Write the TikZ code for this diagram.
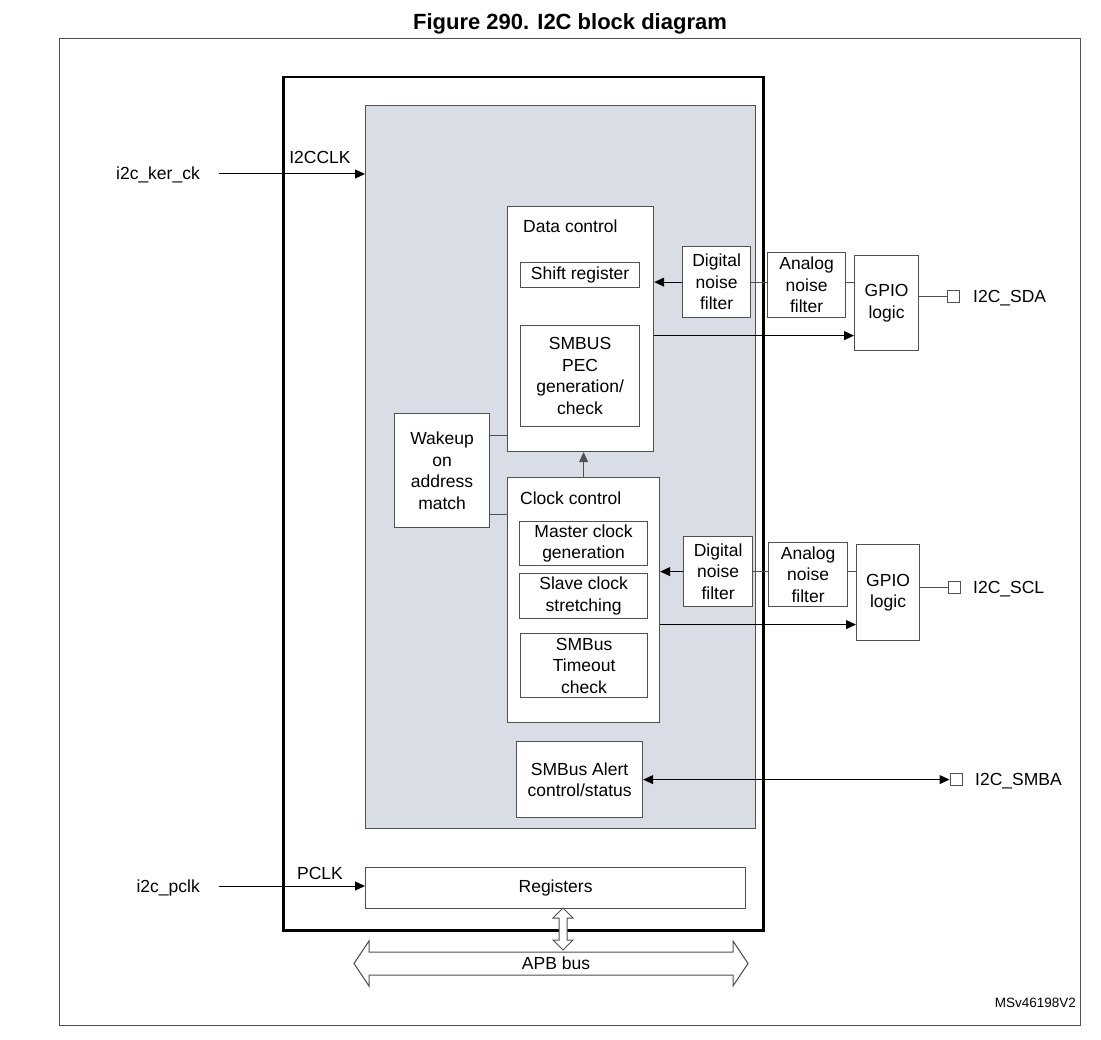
\documentclass[tikz,border=0pt]{standalone}
\usepackage{fontspec}
\setmainfont{Liberation Sans}
\usetikzlibrary{arrows.meta}
\definecolor{coregrey}{RGB}{217,221,229}
\definecolor{edgegrey}{RGB}{80,80,80}
\begin{document}
\begin{tikzpicture}[x=1pt,y=-1pt,
  every node/.style={font=\fontsize{17.5}{21.5}\selectfont},
  blk/.style={draw=edgegrey, line width=1.2pt, fill=white, inner sep=0pt, align=center, anchor=north west},
  lbl/.style={inner sep=0pt},
  arr/.style={-{Triangle[length=10pt,width=9pt]}, line width=1pt, black},
  darr/.style={{Triangle[length=10pt,width=9pt]}-{Triangle[length=10pt,width=9pt]}, line width=1pt, black},
  conn/.style={line width=1pt, edgegrey},
  padbox/.style={draw=edgegrey, line width=1pt, fill=white, minimum size=12pt, inner sep=0pt},
  hollow/.style={draw=edgegrey, line width=1pt, fill=white, line join=miter}]
\useasboundingbox (0,0) rectangle (1101,1040);
% title and frame
\node[lbl, anchor=base, font=\fontsize{22}{26}\selectfont\bfseries] (title) at (570,30) {Figure 290. I2C block diagram};
\draw[edgegrey, line width=1pt] (59,39) rectangle (1080,1025);
% main blocks
\node[draw=black, line width=2.5pt, minimum width=480pt, minimum height=853pt, inner sep=0pt, anchor=north west] (main) at (282,76) {};
\node[draw=edgegrey, fill=coregrey, line width=1.2pt, minimum width=390pt, minimum height=723pt, inner sep=0pt, anchor=north west] (core) at (365,105) {};
\node[blk, minimum width=380pt, minimum height=41pt] (regs) at (365,867) {Registers};
% data control
\node[blk, minimum width=146pt, minimum height=245pt] (dc) at (507,206) {};
\node[lbl, anchor=base west] (dct) at (523,233) {Data control};
\node[blk, minimum width=119pt, minimum height=25pt] (shift) at (520,262) {Shift register};
\node[blk, minimum width=119pt, minimum height=101pt] (pec) at (520,325) {SMBUS\\PEC\\generation/\\check};
% clock control
\node[blk, minimum width=152pt, minimum height=245pt] (cc) at (507,477) {};
\node[lbl, anchor=base west] (cct) at (520,504) {Clock control};
\node[blk, minimum width=128pt, minimum height=44pt] (mcg) at (519,521) {Master clock\\generation};
\node[blk, minimum width=128pt, minimum height=45pt] (scs) at (519,573) {Slave clock\\stretching};
\node[blk, minimum width=127pt, minimum height=64pt] (tmo) at (520,633) {SMBus\\Timeout\\check};
% wakeup and alert
\node[blk, minimum width=95pt, minimum height=114pt] (wake) at (394,413) {Wakeup\\on\\address\\match};
\node[blk, minimum width=126pt, minimum height=76pt] (alert) at (516,741) {SMBus Alert\\control/status};
% filters and gpio (SDA)
\node[blk, minimum width=68pt, minimum height=71pt] (dnf1) at (682,246) {Digital\\noise\\filter};
\node[blk, minimum width=78pt, minimum height=65pt] (anf1) at (767,252) {Analog\\noise\\filter};
\node[blk, minimum width=64pt, minimum height=95pt] (gpio1) at (854,255) {GPIO\\logic};
\node[padbox] (pad1) at (953,297) {};
\node[lbl, anchor=base west] (sda) at (973,303) {I2C\_SDA};
% filters and gpio (SCL)
\node[blk, minimum width=69pt, minimum height=70pt] (dnf2) at (683,536) {Digital\\noise\\filter};
\node[blk, minimum width=79pt, minimum height=64pt] (anf2) at (768,542) {Analog\\noise\\filter};
\node[blk, minimum width=63pt, minimum height=96pt] (gpio2) at (856,544) {GPIO\\logic};
\node[padbox] (pad2) at (954.5,587) {};
\node[lbl, anchor=base west] (scl) at (973,593) {I2C\_SCL};
% SMBA
\node[padbox] (pad3) at (956,779) {};
\node[lbl, anchor=base west] (smba) at (975,785) {I2C\_SMBA};
% clock inputs
\node[lbl, anchor=base east] (kerck) at (200,180) {i2c\_ker\_ck};
\coordinate (kin) at (219,174);
\node[lbl, anchor=base] (i2cclk) at (320,164) {I2CCLK};
\node[lbl, anchor=base east] (pclkin) at (200,892) {i2c\_pclk};
\coordinate (pin) at (219,886);
\node[lbl, anchor=base] (pclk) at (320,879) {PCLK};
% connectors
\draw[arr] (kin) -- (kin -| core.west);
\draw[arr] (pin) -- (pin -| regs.west);
\draw[arr] (dnf1.west) -- (dnf1.west -| dc.east);
\draw[conn] (dnf1.east) -- (dnf1.east -| anf1.west);
\draw[conn] (dnf1.east -| anf1.east) -- (dnf1.east -| gpio1.west);
\draw[conn] (pad1.west) -- (pad1.west -| gpio1.east);
\draw[arr] ([yshift=-6.5pt]dc.east) -- ([yshift=-6.5pt]dc.east -| gpio1.west);
\draw[conn] ([yshift=35pt]wake.east) -- ([yshift=35pt]wake.east -| dc.west);
\draw[conn] ([yshift=-44pt]wake.east) -- ([yshift=-44pt]wake.east -| cc.west);
\draw[arr, edgegrey] (cc.north) -- (cc.north |- dc.south);
\draw[arr] (dnf2.west) -- (dnf2.west -| cc.east);
\draw[conn] (dnf2.east) -- (dnf2.east -| anf2.west);
\draw[conn] (dnf2.east -| anf2.east) -- (dnf2.east -| gpio2.west);
\draw[conn] (pad2.west) -- (pad2.west -| gpio2.east);
\draw[arr] ([yshift=-24.5pt]cc.east) -- ([yshift=-24.5pt]cc.east -| gpio2.west);
\draw[darr] (alert.east) -- (alert.east -| pad3.west);
% APB bus and register link
\draw[hollow] (354,963.5) -- (369,941) -- (369,952) -- (733,952) -- (733,941) -- (748,963.5) -- (733,986) -- (733,975) -- (369,975) -- (369,986) -- cycle;
\node[lbl, anchor=base] (apb) at (556,969) {APB bus};
\draw[hollow] (563,908) -- (573,918) -- (567,918) -- (567,940) -- (573,940) -- (563,950) -- (553,940) -- (559,940) -- (559,918) -- (553,918) -- cycle;
\node[lbl, anchor=base east, font=\fontsize{13.5}{16}\selectfont] (msv) at (1076,1007) {MSv46198V2};
\end{tikzpicture}
\end{document}
